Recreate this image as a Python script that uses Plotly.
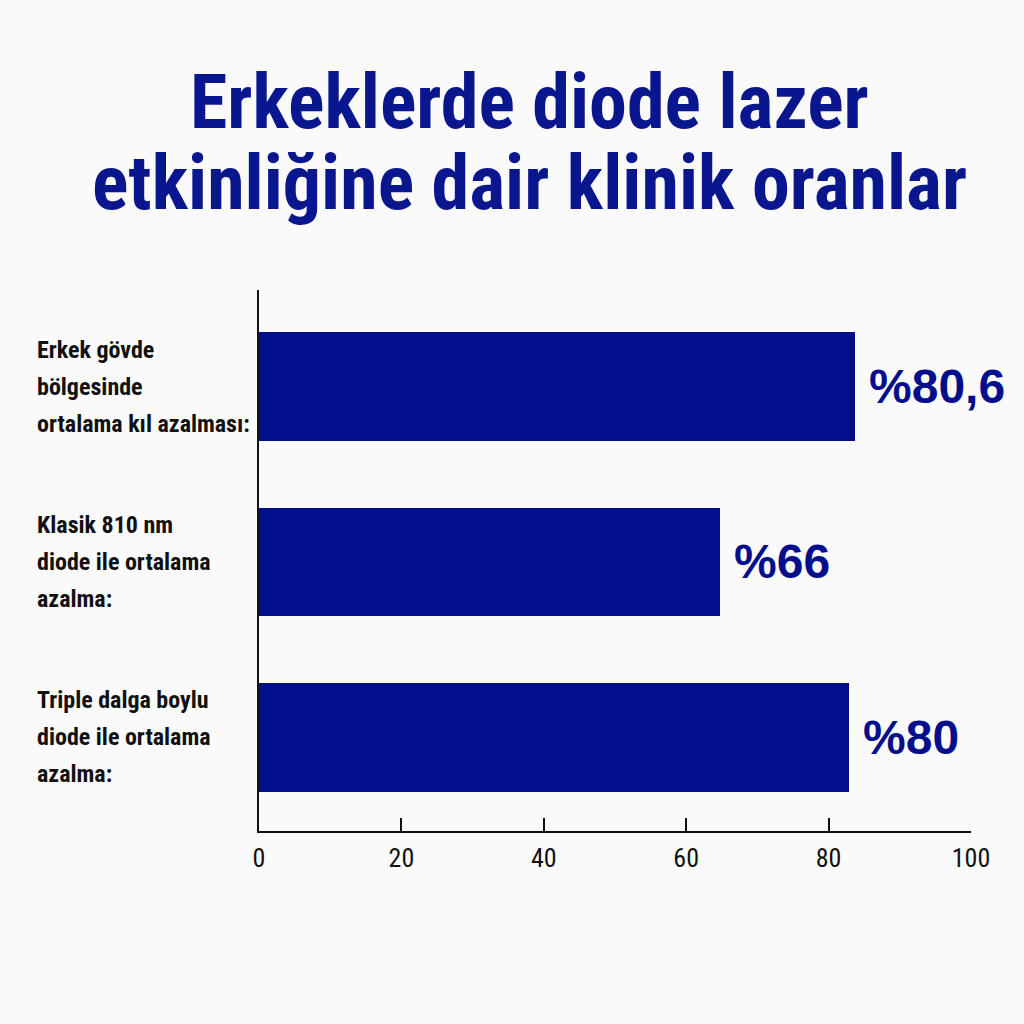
import plotly.graph_objects as go

# ---- data ----
categories = [
    "Erkek gövde<br>bölgesinde<br>ortalama kıl azalması:",
    "Klasik 810 nm<br>diode ile ortalama<br>azalma:",
    "Triple dalga boylu<br>diode ile ortalama<br>azalma:",
]
bar_values = [83.7, 64.7, 82.8]          # bar lengths as drawn
value_labels = ["%80,6", "%66", "%80"]
x_ticks = [0, 20, 40, 60, 80, 100]
title_lines = ["Erkeklerde diode lazer", "etkinliğine dair klinik oranlar"]

NAVY = "#030e8c"
TITLE_COLOR = "#0a168d"
NARROW = "Roboto Condensed, Liberation Sans Narrow, Arial Narrow, sans-serif"
BOLD = "Liberation Sans, Arial, sans-serif"

W, H = 1024, 1024
L, R, T, B = 259, 53, 290, 193
pw = W - L - R

ypos = list(range(len(categories)))

fig = go.Figure()
fig.add_trace(go.Bar(
    x=bar_values, y=ypos, orientation="h",
    marker=dict(color=NAVY, line=dict(width=0)),
    width=0.62, hoverinfo="skip",
))

annotations = []
# value labels
for v, lab, yp in zip(bar_values, value_labels, ypos):
    annotations.append(dict(
        x=v, y=yp, xref="x", yref="y", text=f"<b>{lab}</b>",
        showarrow=False, xanchor="left", yanchor="middle", xshift=12,
        font=dict(family=BOLD, size=48, color=NAVY),
    ))
# category labels (one annotation per line for custom line spacing)
label_x = (35 - L) / pw
line_gap = 37
for cat, yp in zip(categories, ypos):
    lines = cat.split("<br>")
    n = len(lines)
    for i, ln in enumerate(lines):
        annotations.append(dict(
            x=label_x, y=yp, xref="paper", yref="y", text=f"<b>{ln}</b>",
            showarrow=False, xanchor="left", yanchor="middle",
            yshift=((n - 1) / 2 - i) * line_gap,
            font=dict(family=NARROW, size=24, color="#111111"),
        ))
# title
title_x = (529 - L) / pw
for i, tl in enumerate(title_lines):
    annotations.append(dict(
        x=title_x, y=1, xref="paper", yref="paper", text=f"<b>{tl}</b>",
        showarrow=False, xanchor="center", yanchor="middle",
        yshift=(290 - [102, 183][i]),
        font=dict(family=NARROW, size=76, color=TITLE_COLOR),
    ))

fig.update_layout(
    width=W, height=H,
    margin=dict(l=L, r=R, t=T, b=B, pad=0),
    paper_bgcolor="#fafafa", plot_bgcolor="#fafafa",
    showlegend=False,
    annotations=annotations,
    bargap=0,
)
fig.update_xaxes(
    range=[0, 100], tickvals=x_ticks, ticktext=[str(t) for t in x_ticks],
    showgrid=False, zeroline=False,
    showline=True, linecolor="#111111", linewidth=2,
    ticks="inside", ticklen=13, tickwidth=2, tickcolor="#111111",
    tickfont=dict(family=NARROW, size=26, color="#111111"),
    ticklabelstandoff=3,
    fixedrange=True,
)
fig.update_yaxes(
    range=[2.533, -0.55], showticklabels=False, showgrid=False,
    zeroline=False, showline=True, linecolor="#111111", linewidth=2,
    ticks="", fixedrange=True,
)

fig.write_html("out.html", config={"displayModeBar": False})
